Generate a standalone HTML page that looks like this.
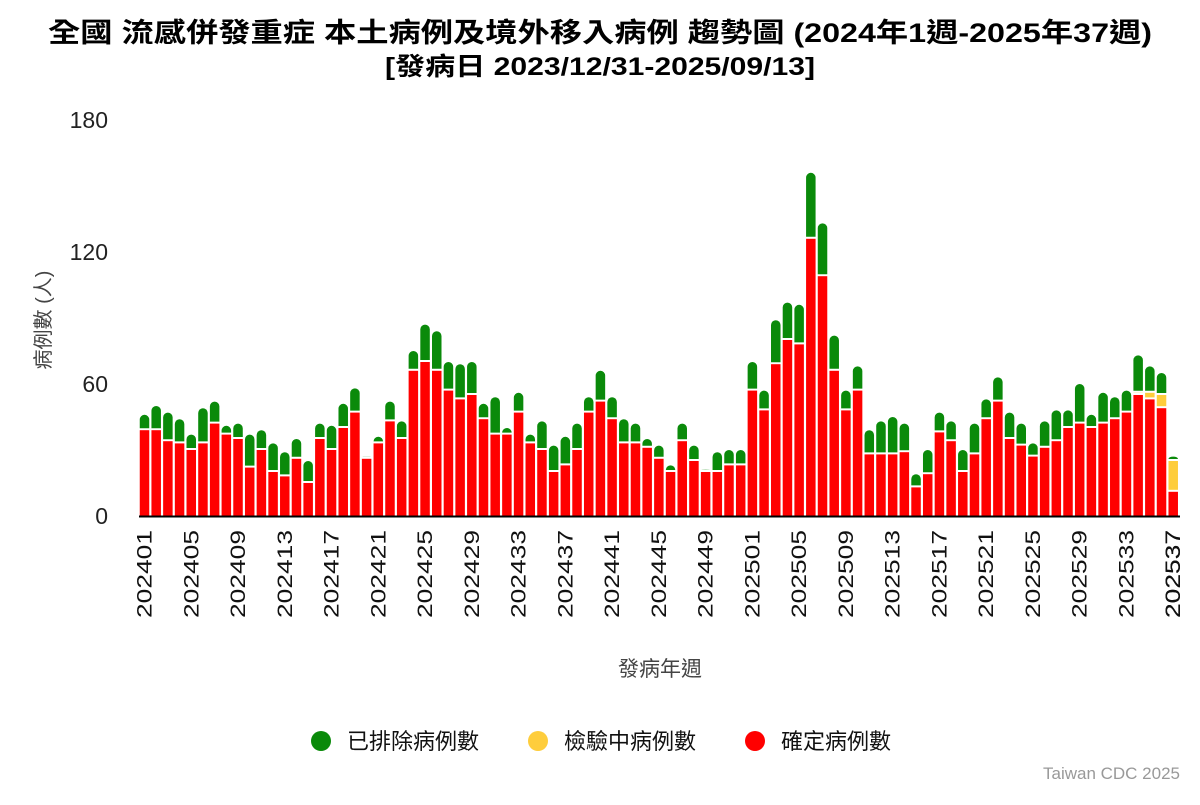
<!DOCTYPE html>
<html><head><meta charset="utf-8"><style>
body{margin:0;background:#fff;width:1200px;height:800px;overflow:hidden;font-family:"Liberation Sans","Noto Sans CJK TC",sans-serif}
</style></head><body>
<svg id="s" width="1200" height="800" xmlns="http://www.w3.org/2000/svg" font-family="Liberation Sans, Noto Sans CJK TC, sans-serif">
<text x="48" y="42" font-size="27" font-weight="bold" fill="#000" textLength="1104" lengthAdjust="spacingAndGlyphs">全國 流感併發重症 本土病例及境外移入病例 趨勢圖 (2024年1週-2025年37週)</text>
<text x="385" y="75" font-size="25" font-weight="bold" fill="#000" textLength="430" lengthAdjust="spacingAndGlyphs">[發病日 2023/12/31-2025/09/13]</text>
<g font-size="23" fill="#222" text-anchor="end">
<text x="108" y="128">180</text><text x="108" y="260">120</text><text x="108" y="392">60</text><text x="108" y="524">0</text>
</g>
<text transform="translate(50,320) rotate(-90)" text-anchor="middle" font-size="20" fill="#444">病例數 (人)</text>
<text x="660" y="676" text-anchor="middle" font-size="21" fill="#444">發病年週</text>
<g id="bars"></g>
<line x1="139" y1="516.5" x2="1180" y2="516.5" stroke="#000" stroke-width="2"/>
<g id="lab" font-size="21" fill="#111"></g>
<g font-size="22" fill="#111">
<circle cx="321" cy="741" r="10" fill="#0a8a0a"/><text x="347" y="749">已排除病例數</text>
<circle cx="538" cy="741" r="10" fill="#fecd3c"/><text x="564" y="749">檢驗中病例數</text>
<circle cx="755" cy="741" r="10" fill="#f00"/><text x="781" y="749">確定病例數</text>
</g>
<text x="1180" y="779" text-anchor="end" font-size="17" fill="#999">Taiwan CDC 2025</text>
</svg>
<script>
var d=[[39,46],[39,50],[34,47],[33,44],[30,37],[33,49],[42,52],[37,41],[35,42],[22,37],[30,39],[20,33],[18,29],[26,35],[15,25],[35,42],[30,41],[40,51],[47,58],[26,27],[33,36],[43,52],[35,43],[66,75],[70,87],[66,84],[57,70],[53,69],[55,70],[44,51],[37,54],[37,40],[47,56],[33,37],[30,43],[20,32],[23,36],[30,42],[47,54],[52,66],[44,54],[33,44],[33,42],[31,35],[26,32],[20,23],[34,42],[25,32],[20,21],[20,29],[23,30],[23,30],[57,70],[48,57],[69,89],[80,97],[78,96],[126,156],[109,133],[66,82],[48,57],[57,68],[28,39],[28,43],[28,45],[29,42],[13,19],[19,30],[38,47],[34,43],[20,30],[28,42],[44,53],[52,63],[35,47],[32,42],[27,33],[31,43],[34,48],[40,48],[42,60],[40,46],[42,56],[44,54],[47,57],[55,73,56],[53,68,56],[49,65,55],[11,27,25]];
var k=2.2,b=516,w=9.5,st=11.69,x0=144.5,h='',l='';
d.forEach(function(v,i){var cx=x0+i*st,x=cx-w/2,r=v[0],t=v[1],y2=v.length>2?v[2]:r;
var segs=[[0,r,'#f00']];if(y2>r)segs.push([r,y2,'#fecd3c']);if(t>y2)segs.push([y2,t,'#0a8a0a']);
segs.forEach(function(s,j){var top=b-s[1]*k,bot=b-s[0]*k-(j>0?2:0),hh=bot-top;if(hh<=0)return;
if(j==segs.length-1&&j>0){var rr=Math.min(w/2,hh);h+='<path d="M'+x+' '+bot+'V'+(top+rr)+'A'+(w/2)+' '+rr+' 0 0 1 '+(x+w)+' '+(top+rr)+'V'+bot+'Z" fill="'+s[2]+'"/>';}
else h+='<rect x="'+x+'" y="'+top+'" width="'+w+'" height="'+hh+'" fill="'+s[2]+'"/>';});
if(i%4==0){var wk=i<52?'2024'+String(i+1).padStart(2,'0'):'2025'+String(i-51).padStart(2,'0');
l+='<text transform="translate('+(cx+7)+',530) rotate(-90)" text-anchor="end" textLength="88" lengthAdjust="spacingAndGlyphs">'+wk+'</text>';}});
l+='<text transform="translate('+(x0+88*st+7)+',530) rotate(-90)" text-anchor="end" textLength="88" lengthAdjust="spacingAndGlyphs">202537</text>';
document.getElementById('bars').innerHTML=h;document.getElementById('lab').innerHTML=l;
</script>
</body></html>
